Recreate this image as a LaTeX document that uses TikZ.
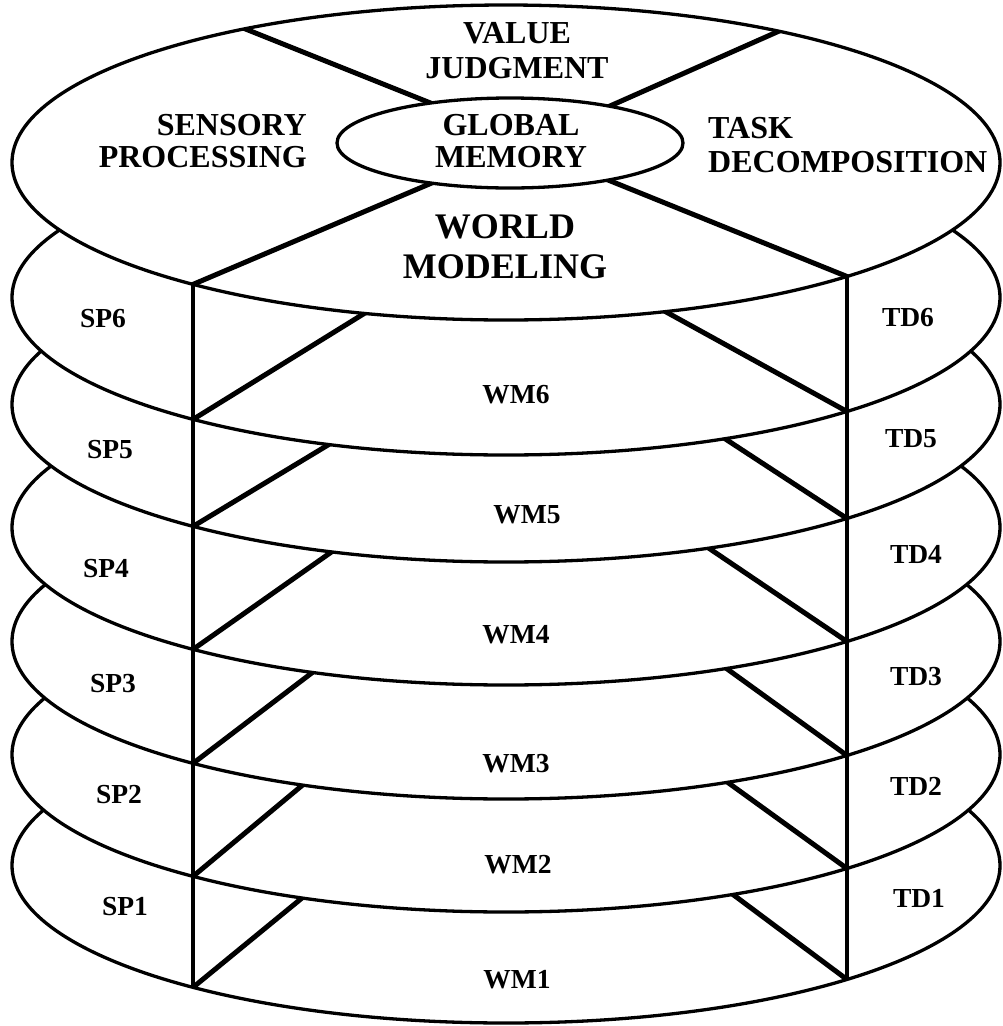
\documentclass[tikz,border=0pt]{standalone}
\usepackage{fontspec}
\setmainfont{Liberation Serif}
\begin{document}
\begin{tikzpicture}[x=1pt,y=-1pt,
  disk/.style={draw=black, line width=3.3pt},
  divider/.style={draw=black, line width=5pt},
  post/.style={draw=black, line width=3.1pt},
  face/.style={font=\fontsize{32}{32}\selectfont\bfseries, inner sep=0pt},
  bigface/.style={font=\fontsize{36}{36}\selectfont\bfseries, inner sep=0pt},
  lev/.style={font=\fontsize{27.5}{27.5}\selectfont\bfseries, inner sep=0pt}]
\useasboundingbox (0,0) rectangle (1002,1026);

% posts of the stack
\coordinate (pl-top) at (193,0);
\coordinate (pl-bot) at (193,1026);
\coordinate (pr-top) at (847,0);
\coordinate (pr-bot) at (847,1026);

% levels, drawn from the bottom up so that each disk hides the one below
\foreach \k/\c/\lux/\luy/\rux/\ruy in {
    1/865.5/302/898/735/896,
    2/754.5/305/783/730/784,
    3/641.5/313/672/730/671,
    4/527.5/330/553/713/551,
    5/404.5/328/445/730/442,
    6/297.5/365/313/668/313}{
  \pgfmathsetmacro\ly{\c+121.9}
  \pgfmathsetmacro\ry{\c+114}
  \coordinate (c\k) at (506,\c);
  \coordinate (l\k) at (193,\ly);
  \coordinate (lu\k) at (\lux,\luy);
  \coordinate (r\k) at (847,\ry);
  \coordinate (ru\k) at (\rux,\ruy);
  \fill[white] (c\k) ellipse [x radius=494pt, y radius=157.5pt];
  \begin{scope}
    \clip (c\k) ellipse [x radius=494pt, y radius=157.5pt];
    \draw[post] (pl-top) -- (pl-bot);
    \draw[post] (pr-top) -- (pr-bot);
    \draw[divider, shorten <=-12pt, shorten >=-10pt] (l\k) -- (lu\k);
    \draw[divider, shorten <=-12pt, shorten >=-10pt] (r\k) -- (ru\k);
  \end{scope}
  \draw[disk] (c\k) ellipse [x radius=494pt, y radius=157.5pt];
}

% top face with its four sectors and the central memory
\coordinate (c0) at (506,162.5);
\coordinate (gm) at (510,143);
\coordinate (tl) at (248,30);
\coordinate (tr) at (777,32);
\coordinate (bl) at (193,284.4);
\coordinate (br) at (847,276.5);
\coordinate (gnw) at (423,100);
\coordinate (gne) at (610,106);
\coordinate (gsw) at (427,185);
\coordinate (gse) at (613,182);
\fill[white] (c0) ellipse [x radius=494pt, y radius=157.5pt];
\begin{scope}
  \clip (c0) ellipse [x radius=494pt, y radius=157.5pt];
  \draw[divider, shorten <=-12pt, shorten >=-12pt] (tl) -- (gnw);
  \draw[divider, shorten <=-12pt, shorten >=-12pt] (tr) -- (gne);
  \draw[divider, shorten <=-12pt, shorten >=-12pt] (bl) -- (gsw);
  \draw[divider, shorten <=-12pt, shorten >=-12pt] (br) -- (gse);
\end{scope}
\draw[disk, fill=white] (gm) ellipse [x radius=173pt, y radius=45pt];
\draw[disk] (c0) ellipse [x radius=494pt, y radius=157.5pt];

% sector names
\node[face, anchor=base] (vj1) at (517,43) {VALUE};
\node[face, anchor=base] (vj2) at (517,78) {JUDGMENT};
\node[face, anchor=base east] (sp-a) at (307,135) {SENSORY};
\node[face, anchor=base east] (sp-b) at (307,167) {PROCESSING};
\node[face, anchor=base] (gm1) at (511,135) {GLOBAL};
\node[face, anchor=base] (gm2) at (511,167) {MEMORY};
\node[face, anchor=base west] (td-a) at (708,138) {TASK};
\node[face, anchor=base west] (td-b) at (708,172) {DECOMPOSITION};
\node[bigface, anchor=base] (wm-a) at (505,238) {WORLD};
\node[bigface, anchor=base] (wm-b) at (505,278) {MODELING};

% level names
\foreach \i/\sx/\sy/\wx/\wy/\tx/\ty in {
    6/103/327/516/403/908/326,
    5/110/458/527/523/911/447,
    4/106/577/516/643/916/563,
    3/113/692/516/772/916/685,
    2/119/803/518/873/916/795,
    1/125/915/517/988/919/907}{
  \node[lev, anchor=base] (sp\i) at (\sx,\sy) {SP\i};
  \node[lev, anchor=base] (wm\i) at (\wx,\wy) {WM\i};
  \node[lev, anchor=base] (td\i) at (\tx,\ty) {TD\i};
}
\end{tikzpicture}
\end{document}
